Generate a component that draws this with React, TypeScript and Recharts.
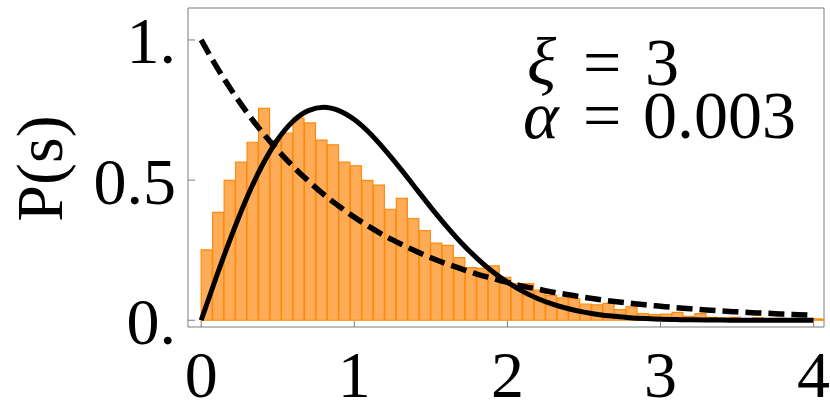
import React from 'react';
import { ComposedChart, Bar, Line, XAxis, YAxis, ReferenceArea } from 'recharts';

// ---- data ----
const BIN_WIDTH = 0.075;
const binHeights = [
  0.251, 0.385, 0.499, 0.564, 0.635, 0.756, 0.64, 0.668, 0.721, 0.704,
  0.643, 0.626, 0.564, 0.551, 0.499, 0.482, 0.396, 0.435, 0.363, 0.32,
  0.275, 0.267, 0.224, 0.188, 0.185, 0.194, 0.153, 0.131, 0.131, 0.108,
  0.089, 0.08, 0.077, 0.058, 0.055, 0.06, 0.038, 0.048, 0.024, 0.02,
  0.022, 0.028, 0.014, 0.024, 0.01, 0.008, 0.01, 0.006, 0.009, 0.005,
  0.007, 0.004, 0.006, 0.005, 0.004,
];

const curveS = [
  0, 0.1, 0.2, 0.3, 0.4, 0.5, 0.6, 0.7, 0.8, 0.9,
  1.0, 1.1, 1.2, 1.3, 1.4, 1.5, 1.6, 1.7, 1.8, 1.9,
  2.0, 2.1, 2.2, 2.3, 2.4, 2.5, 2.6, 2.7, 2.8, 2.9,
  3.0, 3.1, 3.2, 3.3, 3.4, 3.5, 3.6, 3.7, 3.8, 3.9, 4.0,
];
const solidCurve = [
  0, 0.156, 0.304, 0.439, 0.554, 0.645, 0.71, 0.748, 0.76, 0.748,
  0.716, 0.668, 0.608, 0.542, 0.472, 0.403, 0.337, 0.276, 0.222, 0.175,
  0.136, 0.103, 0.077, 0.057, 0.041, 0.029, 0.02, 0.014, 0.009, 0.006,
  0.004, 0.0025, 0.0015, 0.001, 0.0006, 0.0004, 0.0002, 0.0001, 0.0001, 0, 0,
];
const dashedCurve = [
  1.0, 0.905, 0.819, 0.741, 0.67, 0.607, 0.549, 0.497, 0.449, 0.407,
  0.368, 0.333, 0.301, 0.273, 0.247, 0.223, 0.202, 0.183, 0.165, 0.15,
  0.135, 0.122, 0.111, 0.1, 0.091, 0.082, 0.074, 0.067, 0.061, 0.055,
  0.05, 0.045, 0.041, 0.037, 0.033, 0.03, 0.027, 0.025, 0.022, 0.02, 0.018,
];

const xTicks = [0, 1, 2, 3, 4];
const yTicks = [0, 0.5, 1];
const yTickLabels = ['0.', '0.5', '1.'];

const X_DOMAIN: [number, number] = [-0.086, 4.068];
const Y_DOMAIN: [number, number] = [-0.024, 1.114];

const binData = binHeights.map((h, i) => ({ x: (i + 0.5) * BIN_WIDTH, h }));
const curveData = curveS.map((s, i) => ({ s, solid: solidCurve[i], dashed: dashedCurve[i] }));

const FONT = '"Liberation Serif", "Times New Roman", serif';
const FRAME = '#7d7d7d';
const tickStyle = { fontFamily: FONT, fontSize: 66, fill: '#000' };

export default function App() {
  return (
    <div style={{ position: 'absolute', left: 0, top: 0, width: 830, height: 413 }}>
      <ComposedChart
        width={830}
        height={413}
        data={binData}
        margin={{ top: 8, right: 6, bottom: 0, left: 0 }}
        barCategoryGap={0}
        barGap={0}
      >
        <XAxis
          xAxisId="bins"
          dataKey="x"
          type="number"
          domain={X_DOMAIN}
          allowDataOverflow
          hide
          height={0}
        />
        <XAxis
          xAxisId="curve"
          dataKey="s"
          type="number"
          domain={X_DOMAIN}
          allowDataOverflow
          ticks={xTicks}
          interval={0}
          height={86}
          tickSize={-6}
          tickMargin={29}
          tick={tickStyle}
          axisLine={false}
          tickLine={{ stroke: FRAME, strokeWidth: 1 }}
        />
        <YAxis
          yAxisId="left"
          type="number"
          domain={Y_DOMAIN}
          allowDataOverflow
          ticks={yTicks}
          interval={0}
          width={188}
          tickSize={-7}
          tickMargin={19}
          tick={tickStyle}
          tickFormatter={(v: number) => yTickLabels[yTicks.indexOf(v)] ?? String(v)}
          axisLine={false}
          tickLine={{ stroke: FRAME, strokeWidth: 1 }}
        />
        <ReferenceArea
          xAxisId="curve"
          yAxisId="left"
          x1={X_DOMAIN[0]}
          x2={X_DOMAIN[1]}
          y1={Y_DOMAIN[0]}
          y2={Y_DOMAIN[1]}
          fill="none"
          fillOpacity={0}
          stroke={FRAME}
          strokeWidth={1}
          ifOverflow="visible"
        />
        <Bar
          xAxisId="bins"
          yAxisId="left"
          dataKey="h"
          fill="#FFAC58"
          stroke="#FF8A0C"
          strokeWidth={1.2}
          isAnimationActive={false}
        />
        <Line
          xAxisId="curve"
          yAxisId="left"
          data={curveData}
          dataKey="dashed"
          type="monotone"
          stroke="#000"
          strokeWidth={5.5}
          strokeDasharray="16 7"
          dot={false}
          activeDot={false}
          isAnimationActive={false}
        />
        <Line
          xAxisId="curve"
          yAxisId="left"
          data={curveData}
          dataKey="solid"
          type="monotone"
          stroke="#000"
          strokeWidth={5}
          dot={false}
          activeDot={false}
          isAnimationActive={false}
        />
      </ComposedChart>
      <svg
        width={830}
        height={413}
        style={{ position: 'absolute', left: 0, top: 0, pointerEvents: 'none' }}
      >
        <text
          transform="translate(62,168.5) rotate(-90)"
          textAnchor="middle"
          style={{ fontFamily: FONT, fontSize: 66 }}
          fill="#000"
        >
          P(s)
        </text>
        <text style={{ fontFamily: FONT, fontSize: 68 }} fill="#000" y={85}>
          <tspan x={527} style={{ fontStyle: 'italic' }}>ξ</tspan>
          <tspan x={583}>=</tspan>
          <tspan x={645}>3</tspan>
        </text>
        <text style={{ fontFamily: FONT, fontSize: 68 }} fill="#000" y={138}>
          <tspan x={523} style={{ fontStyle: 'italic' }}>α</tspan>
          <tspan x={583}>=</tspan>
          <tspan x={643}>0.003</tspan>
        </text>
      </svg>
    </div>
  );
}
